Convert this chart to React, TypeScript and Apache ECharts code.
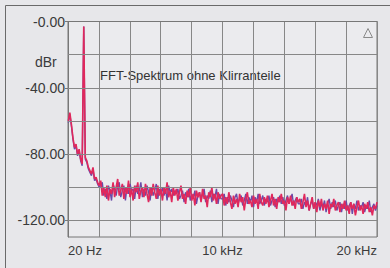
import React, { useEffect, useRef } from "react";
import * as echarts from "echarts";

// Frequency axis (Hz)
const X_MIN = 0;
const X_MAX = 20000;
const X_STEP = 2000;
const X_LABELS: Record<number, string> = { 0: "20 Hz", 10000: "10 kHz", 20000: "20 kHz" };

// Level axis (dBr)
const Y_MIN = -130;
const Y_MAX = 0;
const Y_LABEL_VALUES = [0, -40, -80, -120];
const Y_GRID_VALUES = [-20, -40, -60, -80, -100, -120];

// FFT bins
const FREQ_START = 20;
const BIN_HZ = 99.9;

const RED_DB = [
  -60, -55, -62, -70, -76, -74, -80, -77, -83, -86, -3, -82, -84, -88, -90, -92, -88, -95, -94, -97, -99,
  -96, -105, -100, -106, -99, -108, -101, -104, -97, -106,
  -100, -95, -105, -102, -98, -107, -100, -104, -96, -106,
  -101, -108, -99, -103, -97, -107, -102, -100, -106, -98,
  -104, -109, -100, -105, -98, -103, -107, -99, -105, -101,
  -108, -100, -104, -97, -106, -102, -109, -100, -105,
  -101, -108, -103, -99, -107, -104, -110, -102, -106, -100,
  -108, -104, -111, -102, -106, -103, -109, -101, -107, -105,
  -112, -103, -106, -100, -108, -104, -110, -103, -107, -105,
  -104, -111, -106, -110, -103, -109, -113, -105, -110, -107,
  -112, -104, -109, -106, -114, -107, -103, -110, -108, -112,
  -105, -110, -107, -113, -104, -109, -111, -106, -110, -105,
  -112, -108, -104, -111, -107, -113, -106, -109, -104, -110,
  -108, -114, -106, -110, -105, -111, -108, -113, -106, -109,
  -107, -113, -109, -104, -112, -108, -114, -110, -106, -113,
  -109, -115, -108, -112, -107, -114, -110, -113, -108, -116,
  -110, -112, -107, -114, -111, -109, -115, -110, -113, -108,
  -114, -111, -116, -109, -113, -110, -117, -112, -108, -114,
  -111, -116, -110, -113, -109, -115, -112, -117, -111, -113, -109,
];

const BLUE_DB = [
  -61, -56, -63, -71, -77, -75, -81, -78, -84, -87, -3, -83, -85, -89, -91, -93, -89, -96, -95, -98, -100,
  -99, -97, -105, -101, -107, -99, -102, -108, -98, -101,
  -105, -99, -97, -106, -102, -99, -108, -100, -104, -98,
  -102, -101, -107, -99, -104, -102, -97, -106, -101, -105,
  -99, -103, -108, -100, -105, -102, -98, -107, -101, -104,
  -100, -105, -101, -108, -99, -103, -101, -105, -102,
  -104, -101, -107, -105, -102, -109, -103, -106, -101, -108,
  -104, -107, -102, -110, -105, -103, -108, -104, -101, -109,
  -105, -107, -102, -109, -104, -106, -101, -110, -104, -107,
  -107, -104, -111, -106, -109, -105, -108, -112, -106, -104,
  -110, -107, -105, -111, -108, -104, -110, -106, -109, -105,
  -112, -106, -109, -104, -110, -108, -105, -111, -107, -109,
  -105, -111, -108, -106, -112, -107, -109, -105, -110, -106,
  -111, -108, -105, -110, -107, -104, -111, -108, -106, -110,
  -110, -107, -113, -109, -111, -106, -114, -110, -108, -113,
  -109, -111, -107, -114, -110, -112, -108, -115, -110, -107,
  -113, -109, -112, -108, -114, -111, -109, -115, -110, -113,
  -108, -114, -111, -109, -116, -110, -113, -108, -114, -111,
  -112, -109, -115, -111, -113, -108, -115, -112, -110, -114, -111,
];

const TITLE = "FFT-Spektrum ohne Klirranteile";
const UNIT = "dBr";

const FONT = "'Liberation Sans', Arial, sans-serif";
const GRID_COLOR = "#878787";

export default function App() {
  const ref = useRef<HTMLDivElement>(null);
  useEffect(() => {
    if (!ref.current) return;
    const chart = echarts.init(ref.current, null, { renderer: "svg" });
    const toPts = (arr: number[]) => arr.map((v, i) => [FREQ_START + i * BIN_HZ, v]);
    chart.setOption({
      animation: false,
      backgroundColor: "#e7e7ea",
      grid: {
        left: 68,
        right: 13,
        top: 21.5,
        bottom: 31,
        show: true,
        backgroundColor: "#ebebee",
        borderColor: "#777777",
        borderWidth: 1,
      },
      xAxis: {
        type: "value",
        min: X_MIN,
        max: X_MAX,
        interval: X_STEP,
        axisLine: { show: true, lineStyle: { color: "#777777", width: 1 } },
        axisTick: { show: false },
        splitLine: { show: true, lineStyle: { color: GRID_COLOR, width: 1 } },
        axisLabel: {
          margin: 7,
          fontSize: 13,
          fontFamily: FONT,
          color: "#3a3a3a",
          alignMinLabel: "left",
          alignMaxLabel: "right",
          formatter: (v: number) => X_LABELS[v] ?? "",
        },
      },
      yAxis: [
        {
          type: "value",
          min: Y_MIN,
          max: Y_MAX,
          axisLine: { show: true, lineStyle: { color: "#777777", width: 1 } },
          axisTick: { show: true, length: 3, customValues: Y_LABEL_VALUES, lineStyle: { color: "#777777" } },
          splitLine: { show: false },
          axisLabel: {
            margin: 3,
            fontSize: 14,
            fontFamily: FONT,
            color: "#3a3a3a",
            customValues: Y_LABEL_VALUES,
            formatter: (v: number) => (v === 0 ? "-0.00" : v.toFixed(2)),
          },
        },
      ],
      series: [
        {
          type: "line",
          data: toPts(BLUE_DB),
          showSymbol: false,
          z: 2,
          lineStyle: { color: "#6a4aa8", width: 1.4 },
          markLine: {
            silent: true,
            symbol: "none",
            label: { show: false },
            lineStyle: { color: GRID_COLOR, width: 1, type: "solid" },
            data: Y_GRID_VALUES.map((v) => ({ yAxis: v })),
          },
        },
        {
          type: "line",
          data: toPts(RED_DB),
          showSymbol: false,
          z: 3,
          lineStyle: { color: "#e0285c", width: 1.6 },
        },
      ],
      graphic: [
        { type: "line", shape: { x1: 5.5, y1: 5.5, x2: 390, y2: 5.5 }, style: { stroke: "#6a6a6a", lineWidth: 1 } },
        { type: "line", shape: { x1: 5.5, y1: 5.5, x2: 5.5, y2: 268 }, style: { stroke: "#6a6a6a", lineWidth: 1 } },
        {
          type: "text",
          x: 35,
          y: 62,
          style: { text: UNIT, fontSize: 14, fontFamily: FONT, fill: "#3a3a3a", verticalAlign: "middle" },
        },
        {
          type: "text",
          x: 100,
          y: 75,
          style: { text: TITLE, fontSize: 13, fontFamily: FONT, fill: "#333333", verticalAlign: "middle" },
        },
        {
          type: "polygon",
          shape: { points: [[363.5, 37.5], [368, 28.5], [372.5, 37.5]] },
          style: { fill: "none", stroke: "#8a8a8a", lineWidth: 1 },
        },
      ],
    });
    return () => chart.dispose();
  }, []);
  return (
    <div
      ref={ref}
      style={{ position: "fixed", left: 0, top: 0, width: 390, height: 268, background: "#e7e7ea" }}
    />
  );
}
